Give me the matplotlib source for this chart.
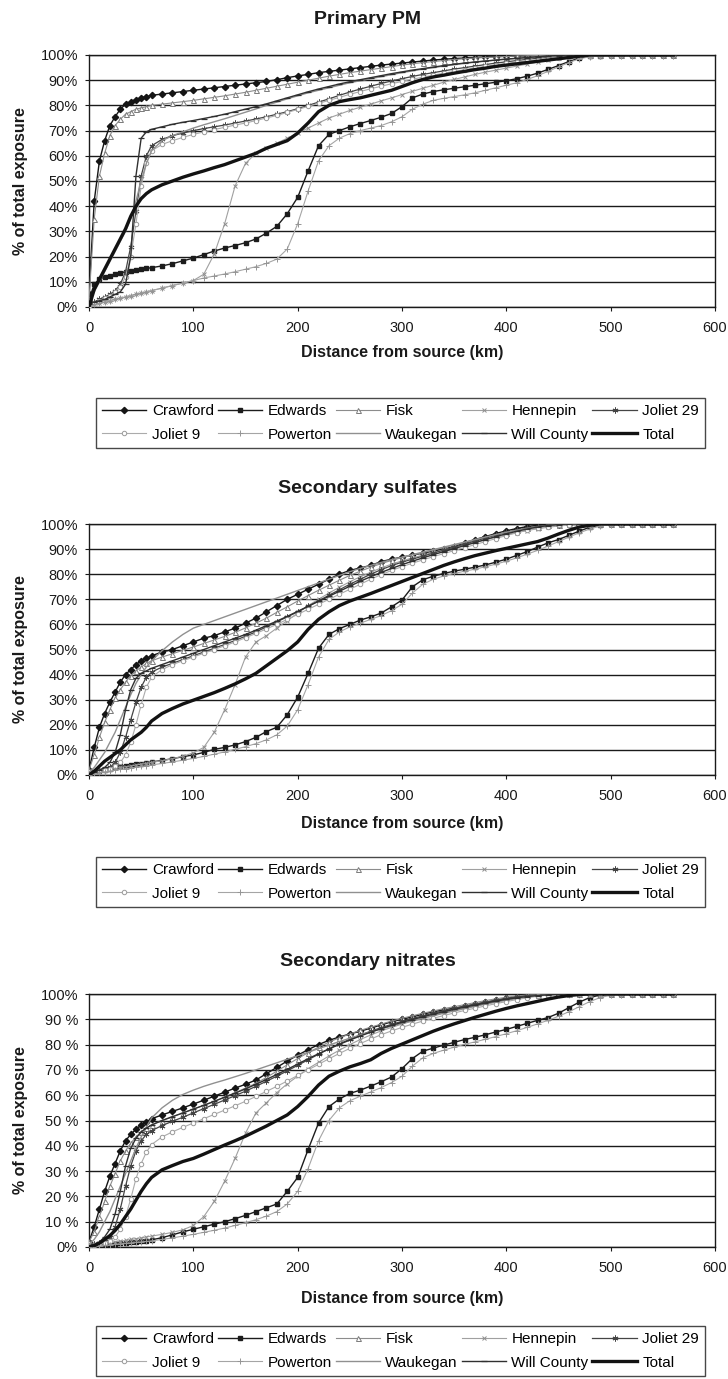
import matplotlib
matplotlib.use("Agg")
import matplotlib.pyplot as plt

plt.rcParams['font.family'] = ['Liberation Sans', 'DejaVu Sans']

# distance from source (km)
dist = list(range(0, 65, 5)) + list(range(70, 570, 10))

# ---------------- Primary PM ----------------
pm_crawford = [5, 42, 58, 66, 72, 75.5, 78.5, 80.5, 81.5, 82.3, 83, 83.5, 84,
               84.5, 85, 85.5, 86, 86.5, 87, 87.5, 88, 88.5, 89,
               89.5, 90.2, 91, 91.7, 92.3, 93, 93.5, 94, 94.5, 95,
               95.5, 96, 96.4, 96.8, 97.2, 97.6, 98, 98.3, 98.6, 98.8,
               99, 99.2, 99.4, 99.5, 99.6, 99.7, 99.8, 99.9, 100, 100,
               100, 100, 100, 100, 100, 100, 100, 100, 100, 100]
pm_edwards = [3, 9, 11, 12, 12.5, 13, 13.5, 14, 14.3, 14.6, 15, 15.3, 15.6,
              16.3, 17.2, 18.3, 19.4, 20.8, 22.2, 23.4, 24.4, 25.5, 27,
              29.3, 32, 37, 43.5, 54, 64, 68.5, 70, 71.5, 72.8,
              74, 75.3, 76.8, 79.5, 83, 84.5, 85.5, 86.2, 86.8, 87.4,
              88, 88.6, 89.2, 89.8, 90.6, 91.6, 92.8, 94.3, 95.8, 97.4,
              98.8, 99.5, 99.8, 100, 100, 100, 100, 100, 100, 100]
pm_fisk = [3, 35, 52, 61, 68, 72, 74.5, 76.5, 77.5, 78.5, 79, 79.5, 80,
           80.5, 81, 81.5, 82, 82.6, 83.2, 83.8, 84.5, 85.2, 86,
           86.8, 87.6, 88.4, 89.2, 90, 90.8, 91.6, 92.3, 93, 93.6,
           94.2, 94.8, 95.4, 96, 96.5, 97, 97.4, 97.8, 98.2, 98.5,
           98.8, 99, 99.2, 99.4, 99.6, 99.7, 99.8, 99.9, 100, 100,
           100, 100, 100, 100, 100, 100, 100, 100, 100, 100]
pm_hennepin = [0.5, 1, 1.5, 2, 2.5, 3, 3.5, 4, 4.5, 5, 5.5, 6, 6.5,
               7.5, 8.5, 9.5, 10.5, 13, 21, 33, 48, 57, 61,
               63, 65, 67, 69, 71, 73, 75, 76.5, 78, 79.3,
               80.5, 81.8, 83, 84.3, 85.6, 86.8, 88, 89.2, 90.3, 91.3,
               92.3, 93.2, 94, 94.8, 95.6, 96.4, 97.2, 98, 98.7, 99.3,
               99.7, 100, 100, 100, 100, 100, 100, 100, 100, 100]
pm_joliet29 = [1, 2, 3, 4, 5, 6.5, 9, 14, 24, 38, 52, 60, 64,
               66.5, 68, 69, 70, 70.8, 71.5, 72.2, 73, 73.8, 74.6,
               75.5, 76.5, 77.5, 78.7, 80, 81.3, 82.6, 84, 85.3, 86.5,
               87.6, 88.7, 89.7, 90.6, 91.5, 92.3, 93, 93.7, 94.4, 95,
               95.6, 96.2, 96.8, 97.3, 97.8, 98.3, 98.7, 99.1, 99.4, 99.7,
               99.9, 100, 100, 100, 100, 100, 100, 100, 100, 100]
pm_joliet9 = [0.5, 1.5, 2.5, 3.5, 4.5, 6, 8, 12, 20, 33, 48, 57, 62,
              64.5, 66, 67.3, 68.5, 69.5, 70.4, 71.3, 72.2, 73, 74,
              75, 76, 77.2, 78.4, 79.6, 80.8, 82, 83.2, 84.4, 85.5,
              86.6, 87.6, 88.6, 89.5, 90.4, 91.2, 92, 92.8, 93.5, 94.2,
              94.9, 95.5, 96.1, 96.7, 97.2, 97.7, 98.2, 98.6, 99, 99.3,
              99.6, 99.8, 100, 100, 100, 100, 100, 100, 100, 100]
pm_powerton = [0.5, 1, 1.5, 2, 2.5, 3, 3.5, 4, 4.5, 5, 5.5, 6, 6.5,
               7.5, 8.5, 9.5, 10.5, 11.5, 12.3, 13.1, 14, 15, 16,
               17.3, 19, 23, 33, 46, 58, 64, 67, 68.8, 70,
               71, 72, 73.5, 75.5, 78.5, 80.5, 82, 82.8, 83.5, 84.2,
               85, 86, 87, 88, 89, 90.3, 91.8, 93.5, 95.3, 97,
               98.5, 99.3, 99.6, 99.8, 99.8, 99.8, 99.8, 99.8, 99.8, 99.8]
pm_waukegan = [2, 6, 10, 14, 18, 22, 26, 30, 35, 42, 50, 57, 62,
               66, 68, 69.5, 71, 72.3, 73.5, 74.7, 76, 77.3, 78.6,
               80, 81.3, 82.6, 83.8, 85, 86, 87, 88, 89, 89.8,
               90.6, 91.4, 92.2, 93, 93.7, 94.4, 95, 95.6, 96.2, 96.7,
               97.2, 97.6, 98, 98.3, 98.6, 98.9, 99.2, 99.4, 99.6, 99.8,
               100, 100, 100, 100, 100, 100, 100, 100, 100, 100]
pm_willcounty = [1, 2, 2.5, 3, 4, 5, 6, 9, 20, 52, 67, 69.5, 70.5,
                 71.5, 72.5, 73.3, 74, 74.8, 75.6, 76.5, 77.5, 78.5, 79.5,
                 80.6, 81.8, 83, 84.2, 85.4, 86.5, 87.5, 88.5, 89.4, 90.2,
                 91, 91.8, 92.6, 93.3, 94, 94.6, 95.2, 95.8, 96.3, 96.8,
                 97.2, 97.6, 98, 98.4, 98.7, 99, 99.3, 99.6, 99.8, 100,
                 100, 100, 100, 100, 100, 100, 100, 100, 100, 100]
pm_total = [0, 7, 11, 15, 19, 23, 27, 31, 36, 40, 43, 45, 46.5,
            48.5, 50, 51.5, 52.8, 54, 55.3, 56.5, 58, 59.5, 61,
            63, 64.5, 66, 69, 73, 77.5, 80, 81.5, 82.3, 83,
            84, 85, 86, 87.5, 89, 90.3, 91.3, 92, 92.8, 93.5,
            94.2, 94.8, 95.5, 96, 96.5, 97, 97.5, 98, 98.5, 99,
            99.5, 100, 100, 100, 100, 100, 100, 100, 100, 100]

# ---------------- Secondary sulfates ----------------
so4_crawford = [2, 11, 19, 24.5, 29, 33, 37, 40, 42, 44, 45.5, 46.5, 47.5,
                49, 50, 51.5, 53, 54.5, 55.5, 57, 58.5, 60.5, 62.5,
                65, 67.5, 70, 72, 74, 76, 78, 80, 81.5, 82.5,
                83.5, 85, 86, 86.8, 87.6, 88.4, 89.2, 90, 91, 92.5,
                93.8, 95, 96.2, 97.3, 98.2, 99, 99.5, 99.8, 100, 100,
                100, 100, 100, 100, 100, 100, 100, 100, 100, 100]
so4_edwards = [0.5, 1, 1.5, 2, 2.5, 3, 3.4, 3.7, 4, 4.2, 4.5, 4.8, 5.2,
               5.8, 6.5, 7.3, 8, 9, 10.2, 11, 12, 13.3, 15,
               17.3, 19, 24, 31, 40.5, 50.5, 56, 58.3, 60, 61.7,
               63, 64.5, 67, 69.7, 75, 77.8, 79.2, 80.3, 81.2, 82,
               82.8, 83.7, 84.8, 86, 87.5, 89, 90.8, 92.5, 93.8, 95.5,
               97.2, 98.7, 99.6, 100, 100, 100, 100, 100, 100, 100]
so4_fisk = [2, 8, 15, 21, 26, 30.5, 34, 37, 39.5, 41.5, 43, 44.5, 45.5,
            47, 48.3, 49.7, 51, 52.4, 53.8, 55.2, 56.8, 58.6, 60.5,
            62.5, 64.8, 67, 69.3, 71.5, 73.6, 75.6, 77.6, 79.5, 81.2,
            82.8, 84.2, 85.5, 86.6, 87.6, 88.6, 89.6, 90.6, 91.6, 92.6,
            93.6, 94.6, 95.6, 96.6, 97.5, 98.3, 99, 99.5, 99.8, 100,
            100, 100, 100, 100, 100, 100, 100, 100, 100, 100]
so4_hennepin = [0.5, 1, 1.5, 2, 2.3, 2.6, 3, 3.3, 3.6, 4, 4.3, 4.6, 5,
                5.7, 6.5, 7.5, 8.8, 11, 17, 26, 36, 47, 53,
                55.5, 58.5, 61.5, 64.5, 67.5, 70, 72.5, 74.8, 77, 79,
                80.8, 82.5, 84, 85.3, 86.5, 87.6, 88.7, 89.7, 90.7, 91.7,
                92.7, 93.7, 94.7, 95.7, 96.6, 97.4, 98.1, 98.7, 99.2, 99.6,
                99.9, 100, 100, 100, 100, 100, 100, 100, 100, 100]
so4_joliet29 = [0.5, 1, 1.5, 2, 3, 5, 9, 15, 22, 29, 35, 39, 41,
                43, 44.5, 46, 47.5, 49, 50.5, 52, 53.6, 55.3, 57,
                59, 61, 63, 65, 67.2, 69.4, 71.6, 73.8, 76, 78,
                80, 81.8, 83.4, 84.8, 86, 87.2, 88.4, 89.6, 90.8, 92,
                93.2, 94.4, 95.6, 96.7, 97.6, 98.4, 99, 99.5, 99.8, 100,
                100, 100, 100, 100, 100, 100, 100, 100, 100, 100]
so4_joliet9 = [0.5, 1, 1.5, 2, 2.5, 3.5, 5, 8, 13, 20, 28, 35, 39,
               42, 44, 45.5, 47, 48.5, 50, 51.5, 53, 54.7, 56.4,
               58.2, 60, 62, 64, 66, 68, 70, 72, 74, 76,
               78, 79.8, 81.5, 83, 84.4, 85.7, 87, 88.2, 89.4, 90.6,
               91.8, 93, 94.2, 95.4, 96.5, 97.5, 98.3, 99, 99.5, 99.8,
               100, 100, 100, 100, 100, 100, 100, 100, 100, 100]
so4_powerton = [0, 0.5, 1, 1.3, 1.6, 1.9, 2.2, 2.5, 2.8, 3.1, 3.4, 3.7, 4,
                4.6, 5.2, 5.9, 6.6, 7.4, 8.3, 9.2, 10.2, 11.3, 12.5,
                14, 16, 19.5, 26, 36, 47, 54, 57, 59, 60.5,
                62, 63.5, 65.5, 68, 72.5, 76, 78, 79.3, 80.3, 81.2,
                82, 83, 84, 85.2, 86.5, 88, 89.5, 91.2, 93, 94.8,
                96.5, 98, 99.2, 99.8, 100, 100, 100, 100, 100, 100]
so4_waukegan = [1, 3, 6, 9, 13, 17, 22, 27, 32, 36.5, 40, 43, 45.5,
                49.5, 53, 56, 58.5, 60, 61.5, 63, 64.5, 66, 67.5,
                69, 70.5, 72, 73.5, 75, 76.5, 78, 79.5, 81, 82.3,
                83.5, 84.7, 85.8, 86.8, 87.8, 88.8, 89.8, 90.8, 91.8, 92.8,
                93.8, 94.8, 95.8, 96.7, 97.5, 98.2, 98.8, 99.3, 99.7, 100,
                100, 100, 100, 100, 100, 100, 100, 100, 100, 100]
so4_willcounty = [0.5, 1, 2, 3, 5, 9, 16, 26, 34, 38.5, 40.5, 41.5, 42.5,
                  44, 45.5, 47, 48.5, 50, 51.5, 53, 54.5, 56, 57.7,
                  59.5, 61.3, 63.2, 65.2, 67.2, 69.2, 71.2, 73.2, 75.2, 77.2,
                  79, 80.7, 82.3, 83.8, 85.2, 86.5, 87.8, 89, 90.2, 91.4,
                  92.6, 93.8, 95, 96.1, 97.1, 98, 98.8, 99.4, 99.8, 100,
                  100, 100, 100, 100, 100, 100, 100, 100, 100, 100]
so4_total = [0, 1.5, 3.5, 5.5, 7, 8.5, 10, 12, 14, 15.5, 17, 19, 21.5,
             24.5, 26.5, 28.3, 29.8, 31.3, 32.8, 34.5, 36.3, 38.3, 40.5,
             43.5, 46.5, 49.5, 53, 58, 62, 65, 67.5, 69.3, 70.8,
             72.3, 73.9, 75.5, 77.1, 78.7, 80.3, 81.9, 83.5, 84.9, 86.2,
             87.4, 88.4, 89.4, 90.3, 91.2, 92.1, 93, 94.4, 96, 97.5,
             98.8, 99.5, 100, 100, 100, 100, 100, 100, 100, 100]

# ---------------- Secondary nitrates ----------------
no3_crawford = [2, 8, 15, 22, 28, 33, 38, 42, 44.5, 46.5, 48.2, 49.5, 50.7,
                52.2, 53.6, 55, 56.5, 58, 59.6, 61.2, 62.8, 64.3, 66,
                68.5, 71, 73.5, 75.8, 78, 80, 81.7, 83, 84.2, 85.3,
                86.5, 87.8, 89, 90, 91, 92, 93, 93.7, 94.4, 95.1,
                95.9, 96.7, 97.5, 98.3, 99, 99.5, 99.8, 100, 100, 100,
                100, 100, 100, 100, 100, 100, 100, 100, 100, 100]
no3_edwards = [0.3, 0.6, 0.8, 1, 1.1, 1.2, 1.4, 1.6, 1.8, 2, 2.3, 2.5, 2.8,
               3.7, 4.8, 6, 7, 8, 9, 10, 11.2, 12.5, 14,
               15.5, 17, 22, 27.5, 38.5, 49, 55.5, 58.5, 60.7, 62,
               63.6, 65.3, 67.2, 70.5, 74.5, 77.4, 78.6, 79.8, 80.9, 82,
               82.9, 83.9, 85, 86, 87.2, 88.4, 89.6, 90.7, 92.4, 94.6,
               96.8, 98.6, 99.6, 100, 100, 100, 100, 100, 100, 100]
no3_fisk = [2, 6, 12, 18, 24, 29, 34, 38, 41, 43.5, 45.5, 47, 48.3,
            50, 51.5, 53, 54.5, 56, 57.5, 59.2, 61, 62.8, 64.7,
            67, 69.5, 72, 74.5, 76.8, 79, 81, 82.7, 84.2, 85.6,
            86.9, 88.1, 89.3, 90.4, 91.4, 92.4, 93.3, 94.2, 95, 95.8,
            96.6, 97.4, 98.1, 98.7, 99.2, 99.6, 99.8, 100, 100, 100,
            100, 100, 100, 100, 100, 100, 100, 100, 100, 100]
no3_hennepin = [0.3, 0.6, 1, 1.3, 1.6, 2, 2.3, 2.6, 3, 3.3, 3.6, 4, 4.3,
                5, 5.8, 6.8, 8.5, 12, 18, 26, 35, 45, 53,
                57, 61, 64.5, 67.5, 70.5, 73, 75.5, 77.8, 80, 82,
                83.8, 85.4, 86.8, 88.1, 89.3, 90.4, 91.5, 92.5, 93.5, 94.4,
                95.3, 96.1, 96.9, 97.6, 98.2, 98.8, 99.3, 99.7, 100, 100,
                100, 100, 100, 100, 100, 100, 100, 100, 100, 100]
no3_joliet29 = [0.5, 1, 1.5, 2.5, 4, 8, 15, 24, 32, 38, 42, 44.5, 46,
                48, 49.7, 51.3, 53, 54.7, 56.4, 58.1, 59.8, 61.6, 63.5,
                65.5, 67.5, 69.6, 71.8, 74, 76.2, 78.3, 80.3, 82.1, 83.8,
                85.3, 86.7, 88, 89.2, 90.3, 91.4, 92.4, 93.4, 94.3, 95.2,
                96, 96.8, 97.5, 98.2, 98.8, 99.3, 99.7, 100, 100, 100,
                100, 100, 100, 100, 100, 100, 100, 100, 100, 100]
no3_joliet9 = [0.3, 0.6, 1, 1.5, 2.5, 4, 7, 12, 19, 27, 33, 37.5, 40.5,
               43.5, 45.5, 47.3, 49, 50.7, 52.4, 54.1, 55.8, 57.6, 59.5,
               61.5, 63.5, 65.6, 67.8, 70, 72.2, 74.4, 76.5, 78.5, 80.4,
               82.2, 83.9, 85.4, 86.8, 88.1, 89.3, 90.4, 91.5, 92.5, 93.5,
               94.4, 95.3, 96.2, 97, 97.8, 98.5, 99.1, 99.6, 99.9, 100,
               100, 100, 100, 100, 100, 100, 100, 100, 100, 100]
no3_powerton = [0, 0.2, 0.4, 0.6, 0.8, 1, 1.2, 1.4, 1.6, 1.8, 2, 2.2, 2.4,
                3, 3.6, 4.3, 5, 5.8, 6.6, 7.5, 8.5, 9.6, 10.8,
                12.2, 14, 17, 22, 31, 42, 50, 55, 57.8, 59.6,
                61.3, 63, 65, 67.5, 71.5, 74.8, 76.5, 77.8, 79, 80.1,
                81.1, 82.1, 83.2, 84.3, 85.5, 86.8, 88.2, 89.6, 91.2, 93,
                95, 97, 98.6, 99.5, 99.8, 100, 100, 100, 100, 100]
no3_waukegan = [1, 3, 6, 10, 14, 19, 24, 29, 34, 39, 43.5, 47.5, 51,
                55, 58, 60.3, 62, 63.5, 64.8, 66, 67.3, 68.6, 70,
                71.4, 72.8, 74.2, 75.6, 77, 78.4, 79.8, 81.2, 82.5, 83.8,
                85, 86.2, 87.3, 88.4, 89.4, 90.4, 91.4, 92.4, 93.3, 94.2,
                95.1, 96, 96.8, 97.6, 98.3, 98.9, 99.4, 99.8, 100, 100,
                100, 100, 100, 100, 100, 100, 100, 100, 100, 100]
no3_willcounty = [0.5, 1, 2, 4, 7, 13, 22, 32, 39, 43, 45.5, 47, 48.2,
                  50, 51.5, 53, 54.5, 56, 57.6, 59.2, 60.8, 62.5, 64.3,
                  66.2, 68.2, 70.2, 72.3, 74.4, 76.4, 78.3, 80.1, 81.8, 83.4,
                  84.9, 86.3, 87.6, 88.8, 89.9, 91, 92, 93, 93.9, 94.8,
                  95.6, 96.4, 97.2, 97.9, 98.5, 99, 99.4, 99.7, 99.9, 100,
                  100, 100, 100, 100, 100, 100, 100, 100, 100, 100]
no3_total = [0, 0.5, 1.5, 3, 4.5, 6.5, 9, 12, 15, 18.5, 22, 25, 27.5,
             30.5, 32.2, 33.8, 35, 36.7, 38.5, 40.3, 42, 43.8, 45.8,
             47.8, 50, 52.2, 55.5, 59.5, 64, 67.5, 69.5, 71.2, 72.5,
             74, 76.5, 78.5, 80.2, 81.9, 83.6, 85.3, 86.8, 88.2, 89.5,
             90.8, 92, 93.2, 94.3, 95.3, 96.2, 97.1, 98, 98.8, 99.4,
             99.8, 100, 100, 100, 100, 100, 100, 100, 100, 100]

names = ["Crawford", "Edwards", "Fisk", "Hennepin", "Joliet 29",
         "Joliet 9", "Powerton", "Waukegan", "Will County", "Total"]

panels = [
    ("Primary PM", [pm_crawford, pm_edwards, pm_fisk, pm_hennepin, pm_joliet29,
                    pm_joliet9, pm_powerton, pm_waukegan, pm_willcounty, pm_total]),
    ("Secondary sulfates", [so4_crawford, so4_edwards, so4_fisk, so4_hennepin, so4_joliet29,
                            so4_joliet9, so4_powerton, so4_waukegan, so4_willcounty, so4_total]),
    ("Secondary nitrates", [no3_crawford, no3_edwards, no3_fisk, no3_hennepin, no3_joliet29,
                            no3_joliet9, no3_powerton, no3_waukegan, no3_willcounty, no3_total]),
]

# line / marker look of each series (scanned grey print)
styles = {
    "Crawford": dict(color="#151515", lw=1.0, marker="D", ms=3.2, mfc="#151515", mec="#151515"),
    "Edwards": dict(color="#1c1c1c", lw=1.0, marker="s", ms=3.5, mfc="#1c1c1c", mec="#1c1c1c"),
    "Fisk": dict(color="#8c8c8c", lw=0.8, marker="^", ms=3.6, mfc="white", mec="#7a7a7a", mew=0.7),
    "Hennepin": dict(color="#a0a0a0", lw=0.8, marker="x", ms=3.4, mec="#8e8e8e", mew=0.7),
    "Joliet 29": dict(color="#454545", lw=0.9, marker=(6, 2, 0), ms=4.2, mec="#454545", mew=0.7),
    "Joliet 9": dict(color="#ababab", lw=0.8, marker="o", ms=3.2, mfc="white", mec="#9a9a9a", mew=0.7),
    "Powerton": dict(color="#a5a5a5", lw=0.8, marker="+", ms=3.8, mec="#959595", mew=0.7),
    "Waukegan": dict(color="#909090", lw=1.0),
    "Will County": dict(color="#303030", lw=1.0, marker="_", ms=4.2, mec="#303030", mew=0.9),
    "Total": dict(color="#121212", lw=2.4),
}

W, H = 728, 1379
fig = plt.figure(figsize=(W / 100, H / 100), dpi=100)

# pixel layout: (axes top, axes bottom, title y, xlabel y, legend centre y)
layout = [
    (55, 307, 20, 353, 423),
    (524, 775, 488, 823, 882),
    (994, 1247, 962, 1298, 1351),
]
x0, x1 = 89, 715
lx0, lx1 = 96, 705

order = [0, 5, 1, 6, 2, 7, 3, 8, 4, 9]  # row-wise legend with ncol=5
ink = "#1a1a1a"

for k, (title, series) in enumerate(panels):
    top, bot, ty, xly, lc = layout[k]
    ax = fig.add_axes([x0 / W, 1 - bot / H, (x1 - x0) / W, (bot - top) / H])
    handles = []
    for name, vals in zip(names, series):
        z = 5 if name == "Total" else 3
        h, = ax.plot(dist, vals, label=name, zorder=z, **styles[name])
        handles.append(h)

    ax.set_xlim(0, 600)
    ax.set_ylim(0, 100)
    ax.set_xticks(range(0, 601, 100))
    ax.set_yticks(range(0, 101, 10))
    if k == 2:
        ylabels = ["0%"] + [f"{v} %" for v in range(10, 100, 10)] + ["100%"]
    else:
        ylabels = [f"{v}%" for v in range(0, 101, 10)]
    ax.set_yticklabels(ylabels)
    ax.yaxis.grid(True, color=ink, lw=1.0)
    ax.set_axisbelow(True)
    for s in ax.spines.values():
        s.set_color(ink)
        s.set_linewidth(1.0)
    ax.tick_params(axis="both", labelsize=10.5, colors=ink, length=3, width=0.8)
    ax.tick_params(axis="y", pad=5)
    ax.tick_params(axis="x", pad=7)

    fig.text(368 / W, 1 - ty / H, title, ha="center", va="center",
             fontsize=14, fontweight="bold", color=ink)
    fig.text((x0 + x1) / 2 / W, 1 - xly / H, "Distance from source (km)", ha="center",
             va="center", fontsize=11.5, fontweight="bold", color=ink)
    fig.text(21 / W, 1 - (top + bot) / 2 / H, "% of total exposure", rotation=90,
             ha="center", va="center", fontsize=11.5, fontweight="bold", color=ink)

    leg = fig.legend([handles[i] for i in order], [names[i] for i in order], ncol=5,
                     loc="center", mode="expand",
                     bbox_to_anchor=(lx0 / W, 1 - lc / H, (lx1 - lx0) / W, 0),
                     frameon=True, fancybox=False, edgecolor=ink, fontsize=11,
                     handlelength=2.9, handletextpad=0.35, columnspacing=0.8,
                     labelspacing=0.6, borderpad=0.4, borderaxespad=0)
    leg.get_frame().set_linewidth(1.0)

fig.savefig("out.png", dpi=100, facecolor="white")
